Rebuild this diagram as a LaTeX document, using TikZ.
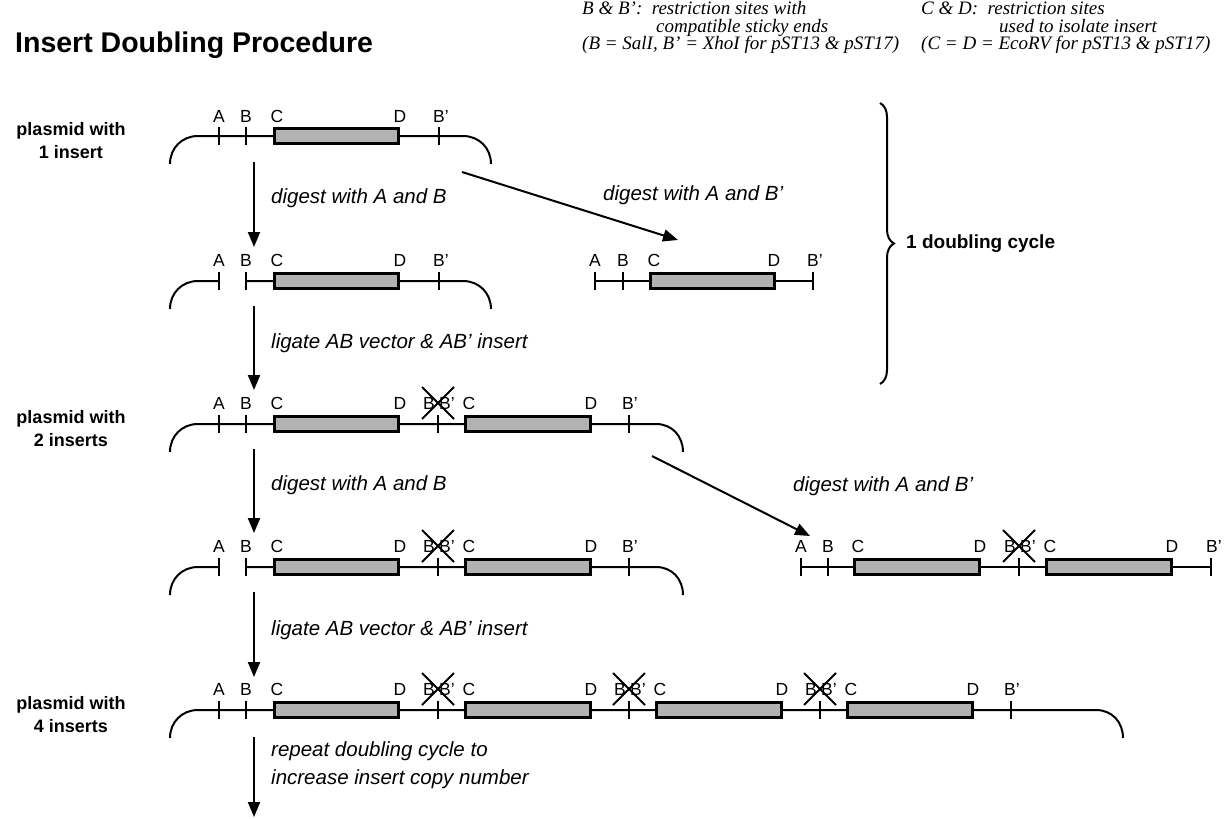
\documentclass[tikz,border=0pt]{standalone}
\usepackage{fontspec}
\setmainfont{Liberation Serif}
\setsansfont{Liberation Sans}
\usetikzlibrary{decorations.pathreplacing,arrows.meta}
\tikzset{
  dna/.style={line width=2pt},
  sitetick/.style={line width=2.2pt},
  insertbox/.style={draw=black, line width=3pt, fill=black!30},
  site/.style={font=\sffamily\fontsize{17.5}{17.5}\selectfont, inner sep=0pt},
  proc/.style={font=\sffamily\itshape\fontsize{20.5}{28}\selectfont, anchor=west, inner sep=0pt, align=left},
  plab/.style={font=\sffamily\bfseries\fontsize{18}{23}\selectfont, inner sep=0pt, align=center},
  note/.style={font=\rmfamily\itshape\fontsize{19}{17}\selectfont, anchor=base west, inner sep=0pt},
  flow/.style={-{Triangle[length=15pt,width=12pt]}, line width=2pt},
  crossmark/.style={line width=2pt},
}
\begin{document}
\begin{tikzpicture}[x=1pt,y=-1pt]
\useasboundingbox (0,0) rectangle (1227,819);

% title and notes
\node[font=\sffamily\bfseries\fontsize{28.5}{28.5}\selectfont, anchor=base west, inner sep=0pt] (title) at (15,52) {Insert Doubling Procedure};
\node[note] (n1) at (582,15) {B \& B':\ \ restriction sites with};
\node[note] (n2) at (656,32) {compatible sticky ends};
\node[note] (n3) at (582,49) {(B = SalI, B' = XhoI for pST13 \& pST17)};
\node[note] (n4) at (921,15) {C \& D:\ \ restriction sites};
\node[note] (n5) at (999,32) {used to isolate insert};
\node[note] (n6) at (921,49) {(C = D = EcoRV for pST13 \& pST17)};

% ---------- row 1 : plasmid with 1 insert (y=136)
\node[plab] (p1) at (71,141) {plasmid with\\1 insert};
\draw[dna] (170,164) .. controls (170,148) and (182,136) .. (198,136) -- (463,136) .. controls (479,136) and (491,148) .. (491,164);
\foreach \x in {219,246,439} \draw[sitetick] (\x,127) -- (\x,145);
\draw[insertbox] (274,128.5) rectangle (398,143.5);
\node[site] (r1a) at (219,116) {A};
\node[site] (r1b) at (246,116) {B};
\node[site] (r1c) at (277,116) {C};
\node[site] (r1d) at (400,116) {D};
\node[site] (r1bp) at (441,116) {B'};

% arrows from row 1
\coordinate (a1s) at (254,162);
\coordinate (a1e) at (254,247);
\draw[flow] (a1s) -- (a1e);
\node[proc] (t1) at (271,198) {digest with A and B};
\coordinate (d1s) at (462,172);
\coordinate (d1e) at (678,240);
\draw[flow] (d1s) -- (d1e);
\node[proc] (t2) at (603,195) {digest with A and B'};

% ---------- row 2 (y=281)
\draw[dna] (170,309) .. controls (170,293) and (182,281) .. (198,281) -- (219,281);
\draw[dna] (246,281) -- (463,281) .. controls (479,281) and (491,293) .. (491,309);
\foreach \x in {219,246,439} \draw[sitetick] (\x,272) -- (\x,290);
\draw[insertbox] (274,273.5) rectangle (398,288.5);
\node[site] (r2a) at (219,260) {A};
\node[site] (r2b) at (246,260) {B};
\node[site] (r2c) at (277,260) {C};
\node[site] (r2d) at (400,260) {D};
\node[site] (r2bp) at (441,260) {B'};
% fragment 1
\draw[dna] (595,281) -- (813,281);
\foreach \x in {595,623,813} \draw[sitetick] (\x,272) -- (\x,290);
\draw[insertbox] (650,273.5) rectangle (774,288.5);
\node[site] (f1a) at (595,260) {A};
\node[site] (f1b) at (623,260) {B};
\node[site] (f1c) at (654,260) {C};
\node[site] (f1d) at (774,260) {D};
\node[site] (f1bp) at (815,260) {B'};

% brace
\draw[line width=2pt, decorate, decoration={brace, amplitude=14pt}] (880,103) -- (880,384);
\node[font=\sffamily\bfseries\fontsize{19}{19}\selectfont, anchor=west, inner sep=0pt] (cyc) at (906,244) {1 doubling cycle};

\coordinate (a2s) at (254,306);
\coordinate (a2e) at (254,390);
\draw[flow] (a2s) -- (a2e);
\node[proc] (t3) at (271,343) {ligate AB vector \& AB' insert};

% ---------- row 3 : plasmid with 2 inserts (y=424)
\node[plab] (p2) at (71,429) {plasmid with\\2 inserts};
\draw[dna] (170,452) .. controls (170,436) and (182,424) .. (198,424) -- (656,424) .. controls (672,424) and (683,436) .. (683,452);
\foreach \x in {219,246,438,629} \draw[sitetick] (\x,415) -- (\x,433);
\draw[insertbox] (274,416.5) rectangle (398,431.5);
\draw[insertbox] (465,416.5) rectangle (590,431.5);
\node[site] (r3a) at (219,403) {A};
\node[site] (r3b) at (246,403) {B};
\node[site] (r3c) at (277,403) {C};
\node[site] (r3d) at (400,403) {D};
\node[site] (r3x1) at (429,403) {B};
\node[site] (r3x2) at (447,403) {B'};
\node[site] (r3c2) at (469,403) {C};
\node[site] (r3d2) at (591,403) {D};
\node[site] (r3bp) at (630,403) {B'};
\draw[crossmark] (422,387) -- (454,419) (454,387) -- (422,419);

\coordinate (a3s) at (254,449);
\coordinate (a3e) at (254,533);
\draw[flow] (a3s) -- (a3e);
\node[proc] (t4) at (271,485) {digest with A and B};
\coordinate (d2s) at (652,456);
\coordinate (d2e) at (810,536);
\draw[flow] (d2s) -- (d2e);
\node[proc] (t5) at (793,486) {digest with A and B'};

% ---------- row 4 (y=567)
\draw[dna] (170,595) .. controls (170,579) and (182,567) .. (198,567) -- (219,567);
\draw[dna] (246,567) -- (656,567) .. controls (672,567) and (683,579) .. (683,595);
\foreach \x in {219,246,438,629} \draw[sitetick] (\x,558) -- (\x,576);
\draw[insertbox] (274,559.5) rectangle (398,574.5);
\draw[insertbox] (465,559.5) rectangle (590,574.5);
\node[site] (r4a) at (219,546) {A};
\node[site] (r4b) at (246,546) {B};
\node[site] (r4c) at (277,546) {C};
\node[site] (r4d) at (400,546) {D};
\node[site] (r4x1) at (429,546) {B};
\node[site] (r4x2) at (447,546) {B'};
\node[site] (r4c2) at (469,546) {C};
\node[site] (r4d2) at (591,546) {D};
\node[site] (r4bp) at (630,546) {B'};
\draw[crossmark] (422,530) -- (454,562) (454,530) -- (422,562);
% fragment 2
\draw[dna] (801,567) -- (1211,567);
\foreach \x in {801,828,1019,1211} \draw[sitetick] (\x,558) -- (\x,576);
\draw[insertbox] (854,559.5) rectangle (979,574.5);
\draw[insertbox] (1046,559.5) rectangle (1171,574.5);
\node[site] (f2a) at (801,546) {A};
\node[site] (f2b) at (828,546) {B};
\node[site] (f2c) at (858,546) {C};
\node[site] (f2d) at (980,546) {D};
\node[site] (f2x1) at (1010,546) {B};
\node[site] (f2x2) at (1028,546) {B'};
\node[site] (f2c2) at (1050,546) {C};
\node[site] (f2d2) at (1172,546) {D};
\node[site] (f2bp) at (1214,546) {B'};
\draw[crossmark] (1003,530) -- (1035,562) (1035,530) -- (1003,562);

\coordinate (a4s) at (254,592);
\coordinate (a4e) at (254,677);
\draw[flow] (a4s) -- (a4e);
\node[proc] (t6) at (271,630) {ligate AB vector \& AB' insert};

% ---------- row 5 : plasmid with 4 inserts (y=710)
\node[plab] (p4) at (71,715) {plasmid with\\4 inserts};
\draw[dna] (170,738) .. controls (170,722) and (182,710) .. (198,710) -- (1096,710) .. controls (1112,710) and (1123,722) .. (1123,738);
\foreach \x in {219,246,438,629,820,1011} \draw[sitetick] (\x,701) -- (\x,719);
\foreach \a/\b in {274/398,465/590,656/781,847/972} \draw[insertbox] (\a,702.5) rectangle (\b,717.5);
\node[site] (r5a) at (219,689) {A};
\node[site] (r5b) at (246,689) {B};
\node[site] (r5c) at (277,689) {C};
\node[site] (r5d) at (400,689) {D};
\node[site] (r5x1) at (429,689) {B};
\node[site] (r5x2) at (447,689) {B'};
\node[site] (r5c2) at (469,689) {C};
\node[site] (r5d2) at (591,689) {D};
\node[site] (r5x3) at (620,689) {B};
\node[site] (r5x4) at (638,689) {B'};
\node[site] (r5c3) at (660,689) {C};
\node[site] (r5d3) at (782,689) {D};
\node[site] (r5x5) at (811,689) {B};
\node[site] (r5x6) at (829,689) {B'};
\node[site] (r5c4) at (851,689) {C};
\node[site] (r5d4) at (973,689) {D};
\node[site] (r5bp) at (1012,689) {B'};
\draw[crossmark] (422,673) -- (454,705) (454,673) -- (422,705);
\draw[crossmark] (613,673) -- (645,705) (645,673) -- (613,705);
\draw[crossmark] (804,673) -- (836,705) (836,673) -- (804,705);

\coordinate (a5s) at (254,737);
\coordinate (a5e) at (254,817);
\draw[flow] (a5s) -- (a5e);
\node[proc, anchor=north west] (t7) at (271,741) {repeat doubling cycle to\\increase insert copy number};
\end{tikzpicture}
\end{document}
